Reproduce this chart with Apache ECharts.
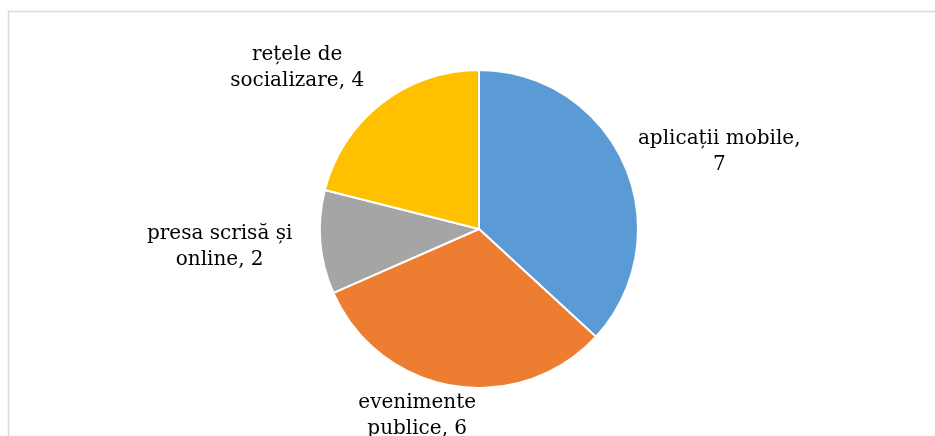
<!DOCTYPE html>
<html>
<head>
<meta charset="utf-8">
<script src="https://cdn.jsdelivr.net/npm/echarts@6/dist/echarts.min.js"></script>
<style>
  html, body { margin: 0; padding: 0; background: #fff; }
  #chart { width: 935px; height: 436px; }
</style>
</head>
<body>
<div id="chart"></div>
<script>
const categories = ['aplicații mobile', 'evenimente publice', 'presa scrisă și online', 'rețele de socializare'];
const values = [7, 6, 2, 4];
const colors = ['#5B9BD5', '#ED7D31', '#A5A5A5', '#FFC000'];

// greedy wrap, Excel-style
function wrap(text, max) {
  const words = text.split(' ');
  const lines = [];
  let cur = '';
  words.forEach(w => {
    const next = cur ? cur + ' ' + w : w;
    if (next.length > max && cur) { lines.push(cur); cur = w; }
    else cur = next;
  });
  if (cur) lines.push(cur);
  return lines;
}

// small nudges so labels sit where Excel's "best fit" put them
const labelNudge = [[-16, -2], [54, 2], [12, 2], [18, -14]];

const myChart = echarts.init(document.getElementById('chart'));

const option = {
  animation: false,
  graphic: [{
    type: 'rect',
    shape: { x: 8.5, y: 11.5, width: 1000, height: 1000 },
    style: { fill: 'none', stroke: '#d9d9d9', lineWidth: 1.5 },
    silent: true
  }],
  series: [{
    type: 'pie',
    center: [479, 229],
    radius: [0, 159],
    startAngle: 90,
    clockwise: true,
    avoidLabelOverlap: false,
    itemStyle: { borderColor: '#fff', borderWidth: 2 },
    label: {
      show: true,
      position: 'outside',
      formatter: p => wrap(p.name + ', ' + p.value, 17).map(l => '{t|' + l + '}').join('\n'),
      rich: {
        t: {
          width: 160,
          align: 'center',
          fontFamily: 'DejaVu Serif',
          fontSize: 20,
          lineHeight: 26,
          color: '#000'
        }
      }
    },
    labelLine: { show: false, length: 28, length2: 0 },
    labelLayout: p => ({ dx: labelNudge[p.dataIndex][0], dy: labelNudge[p.dataIndex][1] }),
    emphasis: { disabled: true },
    data: categories.map((c, i) => ({ name: c, value: values[i], itemStyle: { color: colors[i] } }))
  }]
};

myChart.setOption(option);
</script>
</body>
</html>
